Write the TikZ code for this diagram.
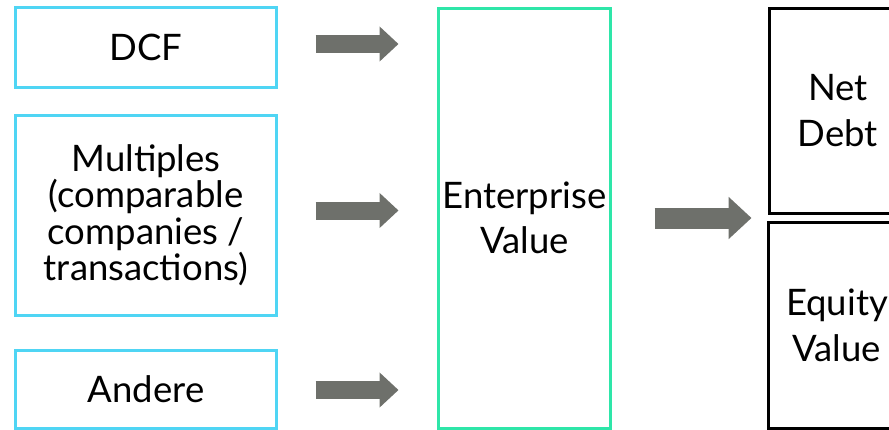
\documentclass[tikz,border=0pt]{standalone}
\usepackage{fontspec}
\setmainfont{Lato}
\usetikzlibrary{positioning,calc,arrows.meta}

\definecolor{methodblue}{HTML}{4FD5F4}
\definecolor{evgreen}{HTML}{2EE6A9}
\definecolor{arrowgray}{HTML}{6E706B}

\begin{document}
\begin{tikzpicture}[x=1pt, y=-1pt,
    method/.style={draw=methodblue, line width=3pt, minimum width=261pt, align=center,
      font=\fontsize{36.5}{36.5}\selectfont},
    value/.style={draw=black, line width=3pt, minimum width=137pt, align=center,
      font=\fontsize{36.5}{45.5}\selectfont},
    flow/.style={draw=arrowgray, line width=18pt, -{Triangle[length=19pt, width=34pt]}},
    bigflow/.style={draw=arrowgray, line width=21pt, -{Triangle[length=23pt, width=41pt]}}]

\useasboundingbox (0,0) rectangle (889,429);

\node[method, minimum height=80pt] (dcf) at (146, 47.5) {DCF};
\node[method, minimum height=200pt] (mult) at (146, 215) {Multiples\\(comparable\\companies /\\transactions)};
\node[method, minimum height=78pt] (andere) at (146, 389.5) {Andere};

\node[value, draw=evgreen, minimum width=172pt, minimum height=420pt] (ev) at (524.5, 218) {Enterprise\\Value};

\node[value, minimum height=205pt] (debt) at (838, 110.5) {Net\\Debt};
\node[value, minimum height=206pt] (equity) at (837, 325.5) {Equity\\Value};

% arrows into the enterprise value
\coordinate (t1) at ([shift={(37.5,-3.5)}]dcf.east);
\coordinate (t2) at ([shift={(37.5,-4.5)}]mult.east);
\coordinate (t3) at ([shift={(37.5,0.5)}]andere.east);
\draw[flow] (t1) -- ($(t1 -| ev.west)+(-38.5,0)$);
\draw[flow] (t2) -- ($(t2 -| ev.west)+(-38.5,0)$);
\draw[flow] (t3) -- ($(t3 -| ev.west)+(-38.5,0)$);

% and on to the split
\coordinate (t4) at ([xshift=42.5pt]ev.east);
\draw[bigflow] (t4) -- ($(t4 -| debt.west)+(-16.5,0)$);

\end{tikzpicture}
\end{document}
